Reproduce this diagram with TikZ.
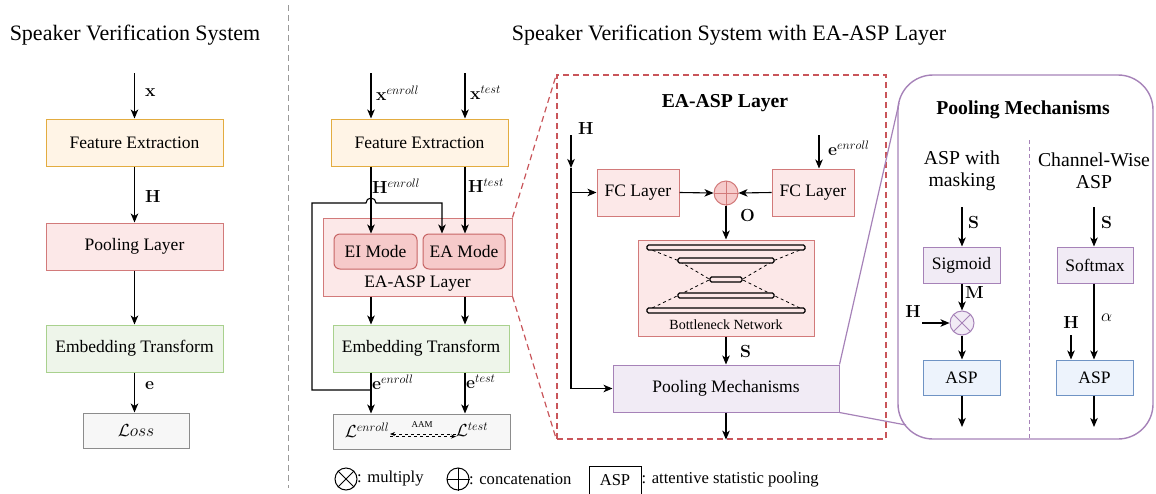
\RequirePackage{fix-cm}
\documentclass[tikz,border=0pt]{standalone}
\usepackage[no-math]{fontspec}
\setmainfont{Liberation Serif}
\usetikzlibrary{arrows.meta}
\definecolor{feF}{HTML}{FFF4E6}
\definecolor{feD}{HTML}{E3AC40}
\definecolor{rdF}{HTML}{FCE8E8}
\definecolor{rdD}{HTML}{D27A7A}
\definecolor{rmF}{HTML}{F6CACA}
\definecolor{rmD}{HTML}{C76565}
\definecolor{gnF}{HTML}{EEF5EA}
\definecolor{gnD}{HTML}{A9D18E}
\definecolor{gyF}{HTML}{F7F7F7}
\definecolor{gyD}{HTML}{8C8C8C}
\definecolor{puF}{HTML}{F1EBF5}
\definecolor{puD}{HTML}{A682B8}
\definecolor{blF}{HTML}{EDF3FC}
\definecolor{blD}{HTML}{6F93C4}
\definecolor{rdash}{HTML}{C9555A}
\newcommand\fsN{\fontsize{17.5}{20}\selectfont}
\newcommand\fsT{\fontsize{22}{26}\selectfont}
\newcommand\fsB{\fontsize{19.7}{23}\selectfont}
\newcommand\fsS{\fontsize{14}{16}\selectfont}
\newcommand\fsL{\fontsize{16.6}{19}\selectfont}
\newcommand\fsX{\fontsize{9}{10}\selectfont}
\begin{document}
\begin{tikzpicture}[x=1pt,y=-1pt,
  box/.style={draw, line width=1pt, inner sep=0pt, align=center, font=\fsN},
  lab/.style={inner sep=0pt, font=\fsN, anchor=west},
  arr/.style={-{Stealth[length=9pt,width=7.5pt,inset=2.5pt]}, line width=1.1pt},
  ln/.style={line width=1.1pt},
  txt/.style={inner sep=0pt, align=center}]
\useasboundingbox (0,0) rectangle (1156,493);

% divider
\draw[gray!80, line width=1pt, dash pattern=on 6pt off 4pt] (288,5) -- (288,488);

% ---------- left system ----------
\node[txt, font=\fsT] (t1) at (135,35) {Speaker Verification System};
\node[box, fill=feF, draw=feD, minimum width=177, minimum height=47] (fe1) at (134.5,142.5) {Feature Extraction};
\node[box, fill=rdF, draw=rdD, minimum width=177, minimum height=47] (pl1) at (134.5,246.5) {Pooling Layer};
\node[box, fill=gnF, draw=gnD, minimum width=177, minimum height=47] (em1) at (134.5,348.5) {Embedding Transform};
\node[box, fill=gyF, draw=gyD, minimum width=106, minimum height=35] (lo1) at (136,430.5) {$\mathcal{L}oss$};
\coordinate (in1) at (134.5,73);
\draw[arr] (in1) -- (fe1.north);
\draw[arr] (fe1.south) -- (pl1.north);
\draw[arr] (pl1.south) -- (em1.north);
\draw[arr] (em1.south) -- (em1.south |- lo1.north);
\node[lab] (lx1) at (145,93) {$\mathbf{x}$};
\node[lab] (lh1) at (145,196) {$\mathbf{H}$};
\node[lab] (le1) at (145,386) {$\mathbf{e}$};

% ---------- middle system ----------
\node[txt, font=\fsT] (t2) at (729,35) {Speaker Verification System with EA-ASP Layer};
\node[box, fill=feF, draw=feD, minimum width=177, minimum height=47] (fe2) at (419.5,142.5) {Feature Extraction};
\node[box, fill=rdF, draw=rdD, minimum width=189, minimum height=78] (easp) at (417.5,257) {};
\node[box, fill=rmF, draw=rmD, rounded corners=6pt, minimum width=83, minimum height=35] (ei) at (375.5,251.5) {EI Mode};
\node[box, fill=rmF, draw=rmD, rounded corners=6pt, minimum width=82, minimum height=35] (ea) at (464,251.5) {EA Mode};
\node[txt, font=\fsN] (easpt) at (417.5,284) {EA-ASP Layer};
\node[box, fill=gnF, draw=gnD, minimum width=176, minimum height=47] (em2) at (421,348.5) {Embedding Transform};
\node[box, fill=gyF, draw=gyD, minimum width=177, minimum height=35] (lo2) at (421.5,431.5) {};
\node[txt, font=\fsN] (len) at (367,430) {$\mathcal{L}^{enroll}$};
\node[txt, font=\fsN] (lte) at (472,430) {$\mathcal{L}^{test}$};
\node[txt, font=\fsX] (aam) at (422,425) {AAM};
\coordinate (aL) at (390,434);
\coordinate (aR) at (456,434);
\draw[dashed, line width=0.7pt, {Stealth[length=5pt,width=4pt]}-] (aL) -- (aR);
\draw[dashed, line width=0.7pt, -{Stealth[length=5pt,width=4pt]}] ([yshift=-2.5pt]aL) -- ([yshift=-2.5pt]aR);

\coordinate (xa) at (371,73);
\coordinate (xb) at (465,73);
\draw[arr] (xa) -- (xa |- fe2.north);
\draw[arr] (xb) -- (xb |- fe2.north);
\draw[arr] (xa |- fe2.south) -- (xa |- ei.north);
\draw[arr] (xb |- fe2.south) -- (xb |- ea.north);
\draw[arr] (xa |- easp.south) -- (xa |- em2.north);
\draw[arr] (xb |- easp.south) -- (xb |- em2.north);
\draw[arr] (xa |- em2.south) -- (xa |- lo2.north);
\draw[arr] (xb |- em2.south) -- (xb |- lo2.north);
\coordinate (lpa) at (371,390);
\coordinate (lpb) at (312,390);
\coordinate (lpc) at (312,203);
\coordinate (lpd) at (442,203);
\draw[arr] (lpa) -- (lpb) -- (lpc) -- (366,203) arc[start angle=180, end angle=0, radius=5pt] -- (lpd) -- (lpd |- ea.north);
\node[lab] (lxa) at (376,93) {$\mathbf{x}^{enroll}$};
\node[lab] (lxb) at (470,93) {$\mathbf{x}^{test}$};
\node[lab] (lha) at (372,186) {$\mathbf{H}^{enroll}$};
\node[lab] (lhb) at (468,186) {$\mathbf{H}^{test}$};
\node[lab] (lea) at (372,382) {$\mathbf{e}^{enroll}$};
\node[lab] (leb) at (466,382) {$\mathbf{e}^{test}$};

% ---------- EA-ASP detail ----------
\node[draw=rdash, line width=1.2pt, dash pattern=on 6pt off 4pt, minimum width=329, minimum height=364, inner sep=0pt] (rd) at (721.5,257) {};
\draw[rdash, line width=1.2pt, dash pattern=on 6pt off 4pt] (easp.north east) -- (rd.north west);
\draw[rdash, line width=1.2pt, dash pattern=on 6pt off 4pt] (easp.south east) -- (rd.south west);
\node[txt, font=\fsB\bfseries] (rdt) at (725,103) {EA-ASP Layer};
\node[box, fill=rdF, draw=rdD, minimum width=82, minimum height=47] (fcl) at (638,192.5) {FC Layer};
\node[box, fill=rdF, draw=rdD, minimum width=82, minimum height=47] (fcr) at (813,192.5) {FC Layer};
\node[circle, draw=rdD, fill=rmF, line width=1pt, minimum size=24pt, inner sep=0pt] (cat) at (726,193) {};
\draw[rdD, line width=0.8pt] (cat.north) -- (cat.south) (cat.west) -- (cat.east);
\node[box, fill=rdF, draw=rdD, minimum width=176, minimum height=96] (bn) at (726,288) {};
% bottleneck drawing
\draw[dashed, line width=0.8pt] (647,248) -- (678,260.5) -- (710,279.5) -- (678,295.5) -- (647,310.5);
\draw[dashed, line width=0.8pt] (805,248) -- (774,260.5) -- (742,279.5) -- (774,295.5) -- (805,310.5);
\foreach \yy/\ww in {247.5/158, 260.5/96, 279.5/32, 295.5/96, 310.5/158} {
  \draw[line width=1.1pt, fill=rdF, rounded corners=1.5pt] (726-\ww/2,\yy-2.5) rectangle (726+\ww/2,\yy+2.5);
}
\node[txt, font=\fsS] (bnt) at (726,325) {Bottleneck Network};
\node[box, fill=puF, draw=puD, minimum width=226, minimum height=47] (pm) at (726,388.5) {Pooling Mechanisms};
\coordinate (hs) at (571,135);
\coordinate (hm) at (571,168);
\draw[arr] (hs) -- (hm);
\draw[ln] (hm) -- (571,388.5);
\draw[arr] (571,388.5) -- (pm.west);
\draw[arr] (571,192.5) -- (fcl.west);
\draw[arr] (fcl.east) -- (cat.west);
\draw[arr] (fcr.west) -- (cat.east);
\coordinate (ein) at (819,135);
\draw[arr] (ein) -- (ein |- fcr.north);
\draw[arr] (cat.south) -- (cat.south |- bn.north);
\draw[arr] (bn.south -| pm.north) -- (pm.north);
\draw[arr] (pm.south) -- (pm.south |- rd.south);
\node[lab] (lhr) at (578,128) {$\mathbf{H}$};
\node[lab] (ler) at (828,148) {$\mathbf{e}^{enroll}$};
\node[lab] (lo) at (740,215) {$\mathbf{O}$};
\node[lab] (ls) at (740,351) {$\mathbf{S}$};

% ---------- Pooling mechanisms detail ----------
\node[draw=puD, line width=1.4pt, rounded corners=35pt, minimum width=255, minimum height=364, inner sep=0pt] (pb) at (1025.5,257) {};
\coordinate (pbt) at (899,103);
\coordinate (pbb) at (906,425);
\draw[puD, line width=1.2pt] (pm.north east) -- (pbt);
\draw[puD, line width=1.2pt] (pm.south east) -- (pbb);
\coordinate (dv) at (1029,140);
\draw[puD, line width=0.8pt, dash pattern=on 4pt off 3pt] (dv) -- (dv |- pb.south);
\node[txt, font=\fsB\bfseries] (pbt1) at (1023,110) {Pooling Mechanisms};
\node[txt, font=\fsB] (pa) at (962,171) {ASP with\\[-1pt]masking};
\node[txt, font=\fsB] (pc) at (1094,171) {Channel-Wise\\[-1pt]ASP};
\node[box, fill=puF, draw=puD, minimum width=77, minimum height=36] (sig) at (961.5,265) {Sigmoid};
\node[circle, draw=puD, fill=puF, line width=1pt, minimum size=24pt, inner sep=0pt] (mul) at (962,323) {};
\draw[puD, line width=0.8pt] (mul.north west) -- (mul.south east) (mul.north east) -- (mul.south west);
\node[box, fill=blF, draw=blD, minimum width=77, minimum height=35] (aspl) at (961.5,377.5) {ASP};
\node[box, fill=puF, draw=puD, minimum width=76, minimum height=36] (soft) at (1095,265) {Softmax};
\node[box, fill=blF, draw=blD, minimum width=77, minimum height=35] (aspr) at (1094.5,377.5) {ASP};
\coordinate (sl) at (962,207);
\coordinate (sr) at (1094,207);
\draw[arr] (sl) -- (sl |- sig.north);
\draw[arr] (sig.south -| mul.north) -- (mul.north);
\draw[arr] (mul.south) -- (mul.south |- aspl.north);
\coordinate (hl) at (922,323);
\draw[arr] (hl) -- (mul.west);
\coordinate (ol) at (962,427);
\draw[arr] (ol |- aspl.south) -- (ol);
\draw[arr] (sr) -- (sr |- soft.north);
\draw[arr] (sr |- soft.south) -- (sr |- aspr.north);
\coordinate (hr) at (1071,335);
\draw[arr] (hr) -- (hr |- aspr.north);
\coordinate (or) at (1094,427);
\draw[arr] (or |- aspr.south) -- (or);
\node[lab] (lsl) at (968,222) {$\mathbf{S}$};
\node[lab] (lsr) at (1101,222) {$\mathbf{S}$};
\node[lab] (lm) at (965,292) {$\mathbf{M}$};
\node[txt, font=\fsN] (lhl) at (913,311) {$\mathbf{H}$};
\node[txt, font=\fsN] (lhr2) at (1071,322) {$\mathbf{H}$};
\node[lab] (lal) at (1101,318) {$\alpha$};

% ---------- legend ----------
\node[circle, draw, line width=1pt, minimum size=22pt, inner sep=0pt] (lgm) at (346,479) {};
\draw[line width=0.8pt] (lgm.north west) -- (lgm.south east) (lgm.north east) -- (lgm.south west);
\node[lab, font=\fsL] (lgmt) at (357,479) {: multiply};
\node[circle, draw, line width=1pt, minimum size=22pt, inner sep=0pt] (lgc) at (458,479) {};
\draw[line width=0.8pt] (lgc.north) -- (lgc.south) (lgc.west) -- (lgc.east);
\node[lab, font=\fsL] (lgct) at (469,479) {: concatenation};
\node[draw, line width=1pt, minimum width=52, minimum height=28, inner sep=0pt, font=\fsL] (lga) at (615,480) {ASP};
\node[lab, font=\fsL] (lgat) at (lga.east) {: attentive statistic pooling};
\end{tikzpicture}
\end{document}
